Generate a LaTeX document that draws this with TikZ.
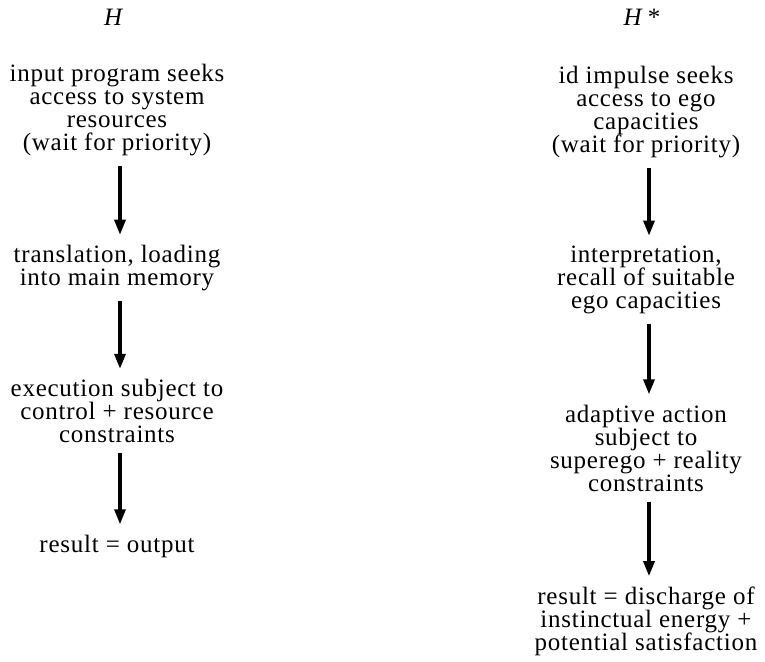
\documentclass[tikz,border=0pt]{standalone}
\usepackage{fontspec}
\setmainfont{Liberation Serif}
\newfontfamily\flowfamily{Liberation Serif}[LetterSpace=3.0]
\usetikzlibrary{positioning,arrows.meta}
\newcommand\flowfont{\flowfamily\fontsize{12.5pt}{11.5pt}\selectfont\lineskiplimit=-20pt\relax}

\begin{document}
\begin{tikzpicture}[x=0.5pt,y=-0.5pt,>={Triangle[length=7.5pt,width=5.5pt]},
    txt/.style={align=center,inner sep=5pt,font=\flowfont},
    flow/.style={->,line width=1.6pt}]
    \useasboundingbox (0,0) rectangle (765,662);
    % computer side
    \node[txt] (h) at (114,17) {\textit{H}};
    \node[txt] (h1) at (117,110) {input program seeks\\access to system\\resources\\(wait for priority)};
    \node[txt] (h2) at (117,268) {translation, loading\\into main memory};
    \node[txt] (h3) at (117,411) {execution subject to\\control + resource\\constraints};
    \node[txt] (h4) at (117,546) {result = output};
    % psychic side
    \node[txt] (p) at (642,17) {\textit{H}\,*};
    \node[txt] (p1) at (646,112) {id impulse seeks\\access to ego\\capacities\\(wait for priority)};
    \node[txt] (p2) at (646,280) {interpretation,\\recall of suitable\\ego capacities};
    \node[txt] (p3) at (646,448) {adaptive action\\subject to\\superego + reality\\constraints};
    \node[txt] (p4) at (646,621) {result = discharge of\\instinctual energy +\\potential satisfaction};
    \foreach \a/\b in {h1/h2,h2/h3,h3/h4,p1/p2,p2/p3,p3/p4}
      {\draw[flow] ([xshift=1.5pt]\a.south) -- ([xshift=1.5pt]\b.north);}
\end{tikzpicture}
\end{document}
